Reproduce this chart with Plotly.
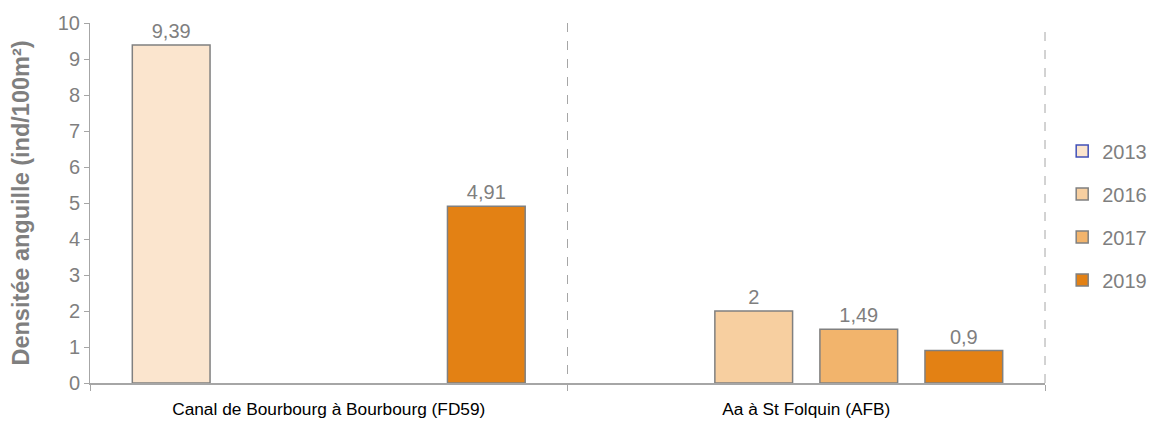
import plotly.graph_objects as go

categories = ["Canal de Bourbourg à Bourbourg (FD59)", "Aa à St Folquin (AFB)"]
years = ["2013", "2016", "2017", "2019"]
v2013 = [9.39, None]
v2016 = [None, 2]
v2017 = [None, 1.49]
v2019 = [4.91, 0.9]
labels2013 = ["9,39", ""]
labels2016 = ["", "2"]
labels2017 = ["", "1,49"]
labels2019 = ["4,91", "0,9"]

fill_colors = {"2013": "#FBE5CE", "2016": "#F7CFA0", "2017": "#F2B46C", "2019": "#E38114"}
edge = "#808080"
FONT = "Liberation Sans, Arial, sans-serif"

fig = go.Figure()
series = [("2013", v2013, labels2013), ("2016", v2016, labels2016),
          ("2017", v2017, labels2017), ("2019", v2019, labels2019)]
for i, (name, vals, labs) in enumerate(series):
    if name == "2013":
        # reorder so the legend picks up the blue outline from the first (empty) point
        x = [categories[1], categories[0]]
        y = [vals[1], vals[0]]
        t = [labs[1], labs[0]]
        lc = ["#4150B8", edge]
    else:
        x, y, t, lc = categories, vals, labs, edge
    fig.add_trace(go.Bar(
        name=name, x=x, y=y, text=t, textposition="outside",
        textfont=dict(color="#7F7F7F", size=20, family=FONT),
        marker=dict(color=fill_colors[name], line=dict(color=lc, width=1.5)),
        legendgroup=name, cliponaxis=False,
    ))

# dashed separator on the right edge of the plot area (category boundary)
fig.add_shape(type="line", xref="paper", yref="paper", x0=1, x1=1, y0=0, y1=1,
              line=dict(color="#A6A6A6", width=1, dash="dash"), layer="below")

fig.update_layout(
    width=1166, height=423,
    margin=dict(l=82, r=129, t=15, b=48),
    paper_bgcolor="white", plot_bgcolor="white",
    barmode="group", bargap=0.12, bargroupgap=0.26,
    font=dict(family=FONT, color="#7F7F7F"),
    showlegend=True,
    legend=dict(x=1.018, xanchor="left", y=0.465, yanchor="middle",
                font=dict(size=20, color="#7F7F7F", family=FONT),
                tracegroupgap=14, itemwidth=30),
    xaxis=dict(
        automargin=False,
        categoryorder="array", categoryarray=categories,
        showline=True, linecolor="#A6A6A6", linewidth=1.5,
        tickson="boundaries", ticks="outside", ticklen=6, tickcolor="#A6A6A6",
        showgrid=True, gridcolor="#A6A6A6", griddash="dash", gridwidth=1,
        tickfont=dict(size=17.3, color="#000000", family=FONT),
        ticklabelstandoff=9,
    ),
    yaxis=dict(
        automargin=False,
        range=[0, 10], dtick=1, showgrid=False, zeroline=False,
        showline=True, linecolor="#A6A6A6", linewidth=1,
        ticks="outside", ticklen=5, tickcolor="#A6A6A6",
        tickfont=dict(size=20, color="#7F7F7F", family=FONT),
        title=dict(text="<b>Densitée anguille (ind/100m²)</b>",
                   font=dict(size=23.5, color="#7F7F7F", family=FONT), standoff=26),
    ),
)

fig.write_html("out.html")
